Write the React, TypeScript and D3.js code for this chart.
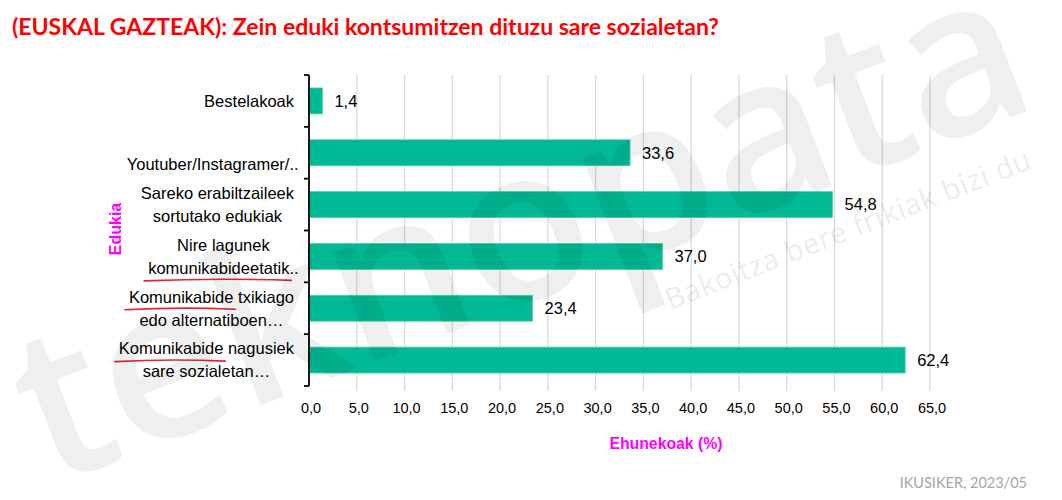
import * as d3 from 'd3'
import { useEffect, useRef } from 'react'

// categories, top to bottom, split into the lines shown next to the axis
const categoryLines: string[][] = [
  ["Bestelakoak"],
  ["", "Youtuber/Instagramer/.."],
  ["Sareko erabiltzaileek", "sortutako edukiak"],
  ["Nire lagunek", "komunikabideetatik.."],
  ["Komunikabide txikiago", "edo alternatiboen…"],
  ["Komunikabide nagusiek", "sare sozialetan…"],
]
const categories = categoryLines.map(l => l.join(" ").trim())
const values = [1.4, 33.6, 54.8, 37.0, 23.4, 62.4]
const xTicks = [0, 5, 10, 15, 20, 25, 30, 35, 40, 45, 50, 55, 60, 65]

// red hand-drawn underlines on some words
const underlines = [
  { cat: 3, line: 1, word: "komunikabideetatik" },
  { cat: 4, line: 0, word: "Komunikabide" },
  { cat: 5, line: 0, word: "Komunikabide" },
]

const W = 1062
const H = 500
const font = "'Liberation Sans', Arial, sans-serif"

export default function App() {
  const svgRef = useRef<SVGSVGElement>(null)

  useEffect(() => {
    document.body.style.margin = "0"
    const svg = d3.select(svgRef.current)
    svg.selectAll("*").remove()

    const x = d3.scaleLinear().domain([0, 65]).range([309, 930])
    const y = d3.scaleBand<string>()
      .domain(categories)
      .range([75, 386])
      .paddingInner(0.5)
      .paddingOuter(0.25)

    // title
    svg.append("text")
      .attr("x", 12).attr("y", 35)
      .attr("font-family", "Lato, 'Open Sans', sans-serif")
      .attr("font-weight", 700)
      .attr("font-size", 23)
      .attr("fill", "#ff0000")
      .text("(EUSKAL GAZTEAK): Zein eduki kontsumitzen dituzu sare sozialetan?")

    // gridlines
    svg.append("g").selectAll("line")
      .data(xTicks.slice(1))
      .enter().append("line")
      .attr("x1", d => x(d)).attr("x2", d => x(d))
      .attr("y1", 75).attr("y2", 391)
      .attr("stroke", "#d9d9d9")
      .attr("stroke-width", 1.3)

    // x tick labels
    svg.append("g").selectAll("text")
      .data(xTicks)
      .enter().append("text")
      .attr("x", d => x(d) + 2)
      .attr("y", 413)
      .attr("text-anchor", "middle")
      .attr("font-family", font)
      .attr("font-size", 14.5)
      .attr("fill", "#000")
      .text(d => d3.format(".1f")(d).replace(".", ","))

    // bars
    svg.append("g").selectAll("rect")
      .data(values)
      .enter().append("rect")
      .attr("x", x(0))
      .attr("y", (_, i) => y(categories[i])!)
      .attr("width", d => x(d) - x(0))
      .attr("height", y.bandwidth())
      .attr("fill", "#00b993")
      .attr("stroke", "#4fd1b1")
      .attr("stroke-width", 0.8)

    // value labels
    svg.append("g").selectAll("text")
      .data(values)
      .enter().append("text")
      .attr("x", d => x(d) + 12)
      .attr("y", (_, i) => y(categories[i])! + y.bandwidth() / 2)
      .attr("dy", "0.35em")
      .attr("font-family", font)
      .attr("font-size", 16.5)
      .attr("fill", "#000")
      .text(d => d3.format(".1f")(d).replace(".", ","))

    // y axis line + ticks at band boundaries
    const step = y.step()
    const bounds = categories.map(c => y(c)! - (step - y.bandwidth()) / 2)
    bounds.push(y.range()[1])
    const axis = svg.append("g")
    axis.append("line")
      .attr("x1", x(0)).attr("x2", x(0))
      .attr("y1", y.range()[0]).attr("y2", y.range()[1])
      .attr("stroke", "#000").attr("stroke-width", 1.8)
    axis.selectAll(".tk")
      .data(bounds)
      .enter().append("line")
      .attr("class", "tk")
      .attr("x1", x(0) - 5).attr("x2", x(0))
      .attr("y1", d => d).attr("y2", d => d)
      .attr("stroke", "#000").attr("stroke-width", 1.8)

    // category labels (each block centred, block right edge near the axis)
    const lineH = 23
    const labelRight = 294
    const lineNodes: SVGTextElement[][] = []
    categoryLines.forEach((lines, i) => {
      const cy = y(categories[i])! + y.bandwidth() / 2
      const g = svg.append("g")
      const nodes = lines.map((ln, j) =>
        g.append("text")
          .attr("y", cy + (j - (lines.length - 1) / 2) * lineH)
          .attr("dy", "0.35em")
          .attr("text-anchor", "middle")
          .attr("font-family", font)
          .attr("font-size", 16.5)
          .attr("fill", "#000")
          .text(ln).node()!)
      const widths = nodes.map((n, j) => {
        const t = lines[j].replace(/(\.\.|…)$/, "")
        return t.length ? n.getSubStringLength(0, t.length) : 0
      })
      const maxW = d3.max(widths) || 0
      nodes.forEach(n => d3.select(n).attr("x", labelRight - maxW / 2))
      lineNodes.push(nodes)
    })

    // underlines
    underlines.forEach(u => {
      const n = lineNodes[u.cat][u.line]
      const txt = categoryLines[u.cat][u.line]
      const start = txt.indexOf(u.word)
      const x0 = n.getStartPositionOfChar(start).x - 4
      const x1 = n.getEndPositionOfChar(start + u.word.length - 1).x + 2
      const yy = Number(d3.select(n).attr("y")) + 12
      svg.append("path")
        .attr("d", `M${x0},${yy + 1} Q${(x0 + x1) / 2},${yy - 2} ${x1},${yy + 0.5}`)
        .attr("fill", "none")
        .attr("stroke", "#e3262b")
        .attr("stroke-width", 1.6)
        .attr("stroke-linecap", "round")
    })

    // axis titles
    svg.append("text")
      .attr("transform", `translate(121,229) rotate(-90)`)
      .attr("text-anchor", "middle")
      .attr("font-family", font)
      .attr("font-weight", 700)
      .attr("font-size", 16)
      .attr("fill", "#ff00ff")
      .text("Edukia")

    svg.append("text")
      .attr("x", 666).attr("y", 449)
      .attr("text-anchor", "middle")
      .attr("font-family", font)
      .attr("font-weight", 700)
      .attr("font-size", 15.8)
      .attr("fill", "#ff00ff")
      .text("Ehunekoak (%)")

    // source
    svg.append("text")
      .attr("x", 1027).attr("y", 488)
      .attr("text-anchor", "end")
      .attr("font-family", "Lato, 'Open Sans', sans-serif")
      .attr("font-size", 14.5)
      .attr("fill", "#a6a6a6")
      .text("IKUSIKER, 2023/05")

    // watermark
    const wm = svg.append("g").attr("pointer-events", "none")
    wm.append("text")
      .attr("transform", "translate(50,486) rotate(-21)")
      .attr("font-family", "'Open Sans', sans-serif")
      .attr("font-weight", 600)
      .attr("font-size", 214)
      .attr("fill", "#000")
      .attr("opacity", 0.06)
      .text("teknopata")
    wm.append("text")
      .attr("transform", "translate(670,310) rotate(-21.4)")
      .attr("font-family", "'Open Sans', sans-serif")
      .attr("font-size", 29)
      .attr("textLength", 390)
      .attr("fill", "#000")
      .attr("opacity", 0.07)
      .text("Bakoitza bere frikiak bizi du")
  }, [])

  return (
    <svg ref={svgRef} width={W} height={H} style={{ display: "block", background: "#fff" }}></svg>
  )
}
